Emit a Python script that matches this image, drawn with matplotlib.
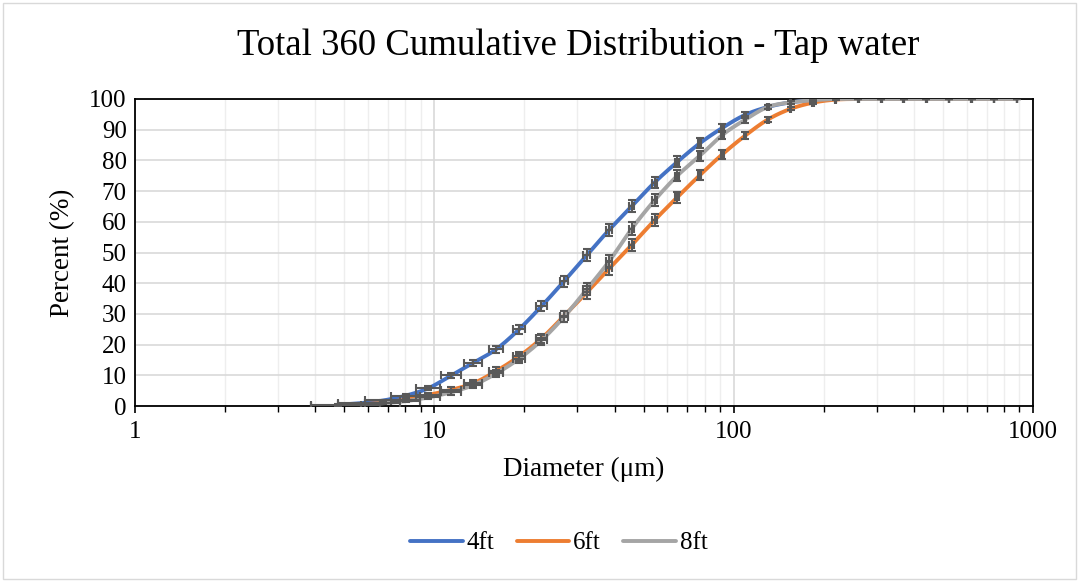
import numpy as np
import matplotlib
matplotlib.use("Agg")
import matplotlib.pyplot as plt
from matplotlib.patches import Rectangle
from matplotlib.ticker import LogLocator, FixedLocator, NullFormatter

# particle size bins (um) and cumulative percent per height
diameter = [4.77, 5.67, 6.75, 8.04, 9.56, 11.4, 13.5, 16.1, 19.2, 22.8, 27.1,
            32.3, 38.4, 45.7, 54.4, 64.8, 77.1, 91.7, 109, 130, 155, 184, 219,
            261, 311, 370, 440, 524, 623, 742, 883]
pct_4ft = [0.4, 0.9, 1.8, 3.4, 5.8, 10.0, 14.1, 18.5, 25.0, 32.5, 40.6, 49.1,
           57.4, 65.1, 72.8, 79.5, 85.6, 90.6, 94.8, 97.4, 98.9, 99.6, 100,
           100, 100, 100, 100, 100, 100, 100, 100]
pct_6ft = [0.1, 0.5, 1.1, 2.1, 3.6, 5.3, 7.4, 11.4, 16.2, 22.0, 29.3, 37.0,
           44.8, 52.5, 60.5, 68.0, 75.2, 82.0, 88.0, 93.3, 96.8, 98.8, 99.8,
           100, 100, 100, 100, 100, 100, 100, 100]
pct_8ft = [0.05, 0.4, 0.9, 1.6, 2.8, 4.5, 6.8, 10.6, 15.4, 21.4, 29.0, 38.0,
           47.2, 57.8, 67.0, 75.0, 81.5, 88.3, 93.2, 97.4, 98.9, 99.6, 100,
           100, 100, 100, 100, 100, 100, 100, 100]
# error bars: fixed diameter error, percent error per bin
x_err = 0.9
y_err = [0.1, 0.2, 0.3, 0.4, 0.6, 0.8, 1.0, 1.2, 1.4, 1.6, 1.8, 2.0, 2.0, 2.0,
         1.9, 1.8, 1.6, 1.4, 1.1, 0.8, 0.5, 0.3, 0.1, 0, 0, 0, 0, 0, 0, 0, 0]

series = [("4ft", pct_4ft, "#4472C4"),
          ("6ft", pct_6ft, "#ED7D31"),
          ("8ft", pct_8ft, "#A5A5A5")]

plt.rcParams["font.family"] = ["Liberation Serif", "DejaVu Serif"]


def smooth_line(xs, ys, n=24):
    # Excel-like smoothed line: Catmull-Rom beziers in log-x space
    p = np.column_stack([np.log10(xs), ys])
    out = []
    for i in range(len(p) - 1):
        p0 = p[i - 1] if i > 0 else p[i]
        p1, p2 = p[i], p[i + 1]
        p3 = p[i + 2] if i + 2 < len(p) else p[i + 1]
        c1 = p1 + (p2 - p0) / 6
        c2 = p2 - (p3 - p1) / 6
        t = np.linspace(0, 1, n)[:, None]
        seg = ((1 - t) ** 3) * p1 + 3 * ((1 - t) ** 2) * t * c1 \
            + 3 * (1 - t) * t ** 2 * c2 + t ** 3 * p2
        out.append(seg)
    out = np.vstack(out)
    return 10 ** out[:, 0], out[:, 1]


fig = plt.figure(figsize=(10.79, 5.82), dpi=100)
ax = fig.add_axes([0.1251, 0.3024, 0.8323, 0.5275])

for name, vals, color in series:
    sx, sy = smooth_line(diameter, vals)
    ax.plot(sx, sy, color=color, lw=2.8, label=name, zorder=3,
            solid_capstyle="round")

for name, vals, color in series:
    ax.errorbar(diameter, vals, xerr=x_err, yerr=y_err, fmt="none",
                ecolor="#595959", elinewidth=1.5, capsize=3, capthick=1.5,
                zorder=4)

ax.set_xscale("log")
ax.set_xlim(1, 1000)
ax.set_ylim(0, 100)
ax.set_yticks(range(0, 101, 10))
ax.xaxis.set_major_locator(FixedLocator([1, 10, 100, 1000]))
ax.xaxis.set_minor_locator(LogLocator(base=10, subs=np.arange(2, 10)))
ax.xaxis.set_minor_formatter(NullFormatter())
ax.set_xticklabels(["1", "10", "100", "1000"])

ax.grid(which="major", color="#d9d9d9", lw=1.2, zorder=0)
ax.grid(which="minor", axis="x", color="#eeeeee", lw=1.0, zorder=0)
ax.set_axisbelow(True)
for s in ax.spines.values():
    s.set_color("black")
    s.set_linewidth(1.3)
ax.tick_params(axis="x", which="major", length=5, width=1.2, labelsize=18,
               pad=6)
ax.tick_params(axis="x", which="minor", length=4, width=1.0)
ax.tick_params(axis="y", which="major", length=0, labelsize=18, pad=6)

ax.set_xlabel("Diameter (\u03bcm)", fontsize=19.5, labelpad=10)
ax.set_ylabel("Percent (%)", fontsize=19.5, labelpad=10)

fig.text(0.536, 0.922, "Total 360 Cumulative Distribution - Tap water",
         ha="center", va="center", fontsize=26.5)

fig.legend(loc="center", bbox_to_anchor=(0.518, 0.067), ncol=3, frameon=False,
           fontsize=18, handlelength=2.1, handletextpad=0.15,
           columnspacing=0.9)

fig.patches.append(Rectangle((0.003, 0.005), 0.994, 0.99,
                             transform=fig.transFigure, fill=False,
                             edgecolor="#d9d9d9", lw=1.0))

fig.savefig("out.png", dpi=100)
